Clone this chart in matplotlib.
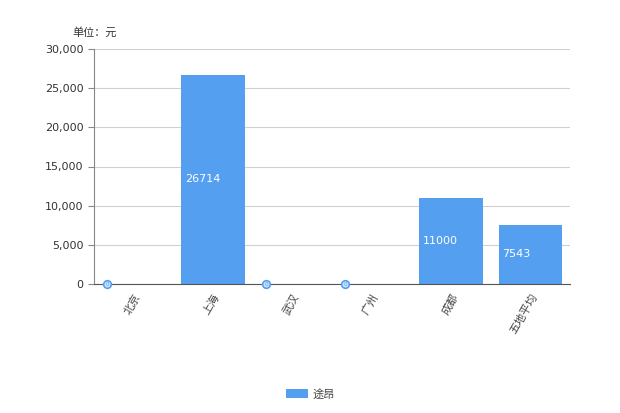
import matplotlib.pyplot as plt
from matplotlib.ticker import FuncFormatter, MultipleLocator

plt.rcParams['font.family'] = ['DejaVu Sans', 'Noto Sans CJK SC']

cities = ['北京', '上海', '武汉', '广州', '成都', '五地平均']
values = [0, 26714, 0, 0, 11000, 7543]
series_name = '途昂'
bar_color = '#559ff0'

fig = plt.figure(figsize=(6.2, 4.13), dpi=100)
ax = fig.add_axes([94 / 620, 1 - 284 / 413, 476 / 620, 235 / 413])

x = list(range(len(cities)))
ax.bar(x, values, width=0.8, color=bar_color, zorder=2, label=series_name)

# value labels inside bars, small circle badge for zero values
for xi, v in zip(x, values):
    left = xi - 0.4
    if v > 0:
        ax.text(left + 0.05, v / 2, str(v), color='white', fontsize=8,
                ha='left', va='center', zorder=3)
    else:
        ax.plot(left + 0.07, 0, 'o', ms=5.5, mfc='#cfe3fb', mec=bar_color,
                mew=1.2, zorder=4, clip_on=False)
        ax.text(left + 0.07, 0, '0', color=bar_color, fontsize=4,
                ha='center', va='center', zorder=5, clip_on=False)

ax.set_xlim(-0.5, len(cities) - 0.5)
ax.set_ylim(0, 30000)
ax.yaxis.set_major_locator(MultipleLocator(5000))
ax.yaxis.set_major_formatter(FuncFormatter(lambda v, p: f'{int(v):,}'))
ax.grid(axis='y', color='#d0d0d0', linewidth=0.8, zorder=0)
ax.set_axisbelow(True)

for s in ['top', 'right']:
    ax.spines[s].set_visible(False)
ax.spines['left'].set_color('#888888')
ax.spines['bottom'].set_color('#555555')

ax.set_xticks(x)
ax.set_xticklabels(cities, rotation=60, ha='right', rotation_mode='anchor',
                   fontsize=8, color='#444444')
ax.tick_params(axis='x', length=0, pad=6)
ax.tick_params(axis='y', length=4, color='#888888', labelsize=8,
               labelcolor='#333333')

fig.text(72 / 620, 1 - 32 / 413, '单位：元', fontsize=8, color='#333333',
         va='center', ha='left')

fig.legend(loc='center', bbox_to_anchor=(0.5, 1 - 394 / 413), frameon=False,
           fontsize=8, handlelength=2.0, handleheight=0.9, handletextpad=0.4,
           labelcolor='#444444')

fig.savefig('out.png', dpi=100)
